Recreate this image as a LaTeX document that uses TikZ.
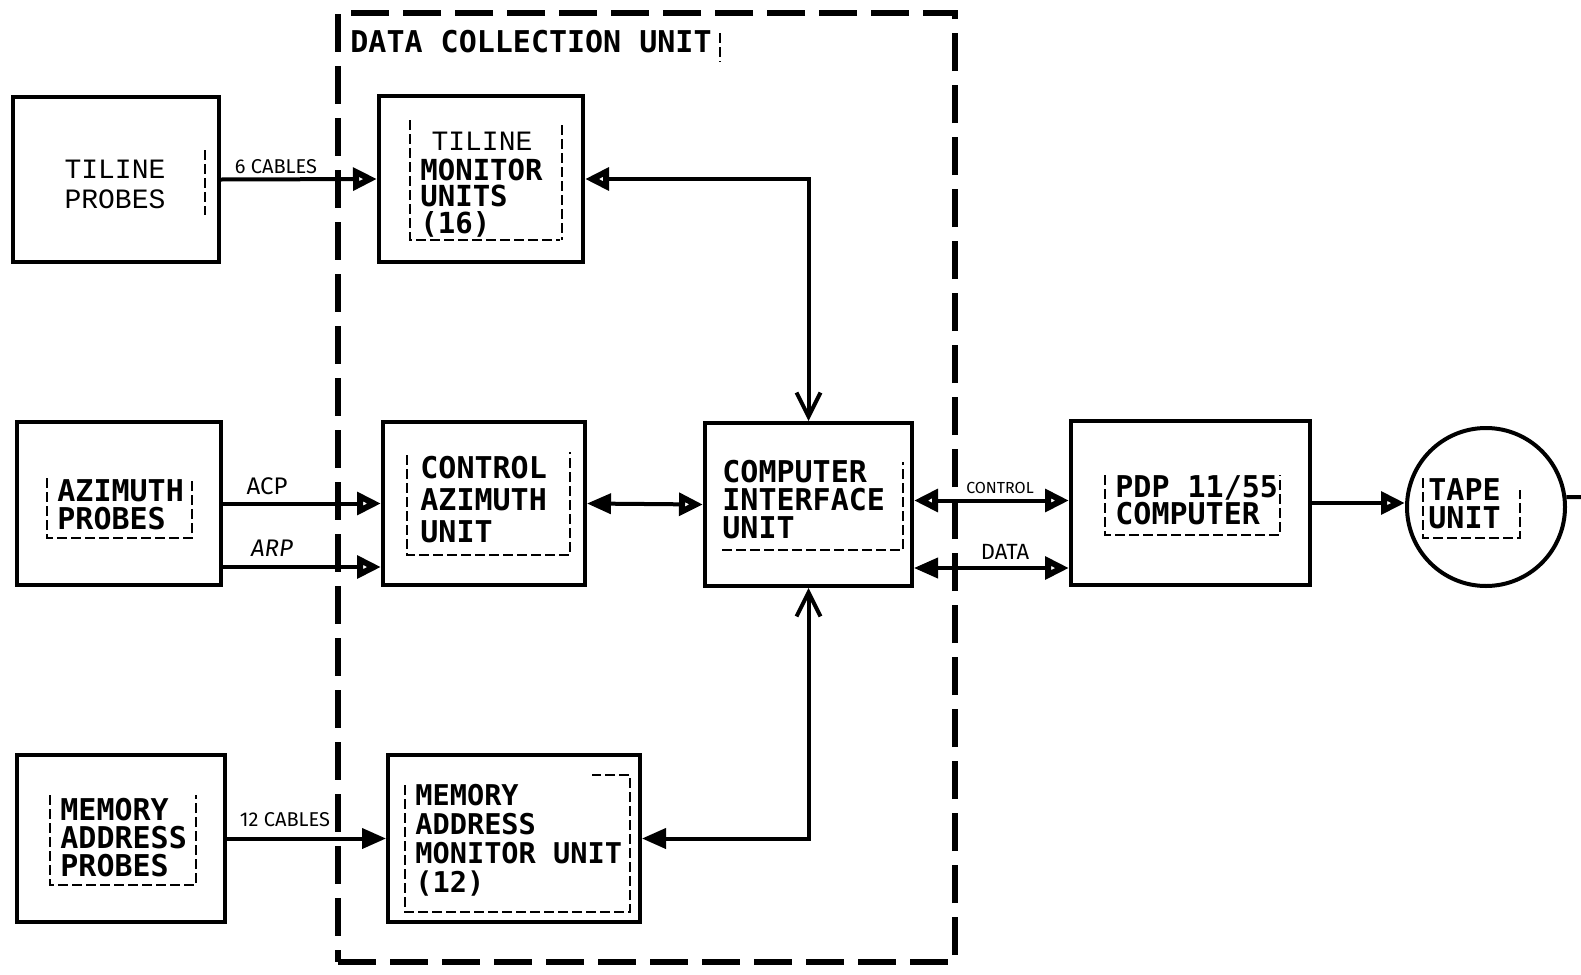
\documentclass[tikz,border=0pt]{standalone}
\usepackage{fontspec}
\newfontfamily\lett{DejaVu Sans Mono}
\newfontfamily\typew{Liberation Mono}
\newfontfamily\hand{Fira Sans}
\usetikzlibrary{arrows.meta}
\begin{document}
\begin{tikzpicture}[x=0.5pt,y=-0.5pt,
  otri/.tip={Triangle[open,length=12pt,width=11pt,line width=1.6pt 1]},
  ftri/.tip={Triangle[length=12pt,width=10pt]},
  vbarb/.tip={Straight Barb[length=12pt,width=12pt]},
  box/.style={draw, line width=2pt, rectangle, inner sep=0pt},
  conn/.style={line width=2pt},
  txt/.style={anchor=west, inner sep=0pt, align=left, font=\lett\bfseries\fontsize{15pt}{14pt}\selectfont},
  ttxt/.style={inner sep=0pt, align=center, font=\typew\fontsize{14pt}{15pt}\selectfont},
  lbl/.style={inner sep=0pt, font=\hand\fontsize{10pt}{11pt}\selectfont},
  brk/.style={line width=0.6pt, dash pattern=on 5pt off 2pt},
  frame/.style={draw, line width=2.6pt, dash pattern=on 19pt off 7pt, rectangle, inner sep=0pt}
]
\useasboundingbox[fill=white] (0,0) rectangle (1581,975);

% data collection unit frame
\node[frame, minimum width=308.5pt, minimum height=474.5pt] (dcu) at (646.5,487.5) {};
\node[txt] (dcul) at (350,42) {DATA COLLECTION UNIT};
\draw[brk] (720,33) -- (720,62);

% boxes
\node[box, minimum width=103pt, minimum height=82.5pt] (tp) at (116,179.5) {};
\node[box, minimum width=102pt, minimum height=83pt] (tmu) at (481,179) {};
\node[box, minimum width=102pt, minimum height=81.5pt] (ap) at (119,503.5) {};
\node[box, minimum width=101pt, minimum height=81.5pt] (cau) at (484,503.5) {};
\node[box, minimum width=103.5pt, minimum height=81.5pt] (ciu) at (808.5,504.5) {};
\node[box, minimum width=104pt, minimum height=83.5pt] (map) at (121,838.5) {};
\node[box, minimum width=126pt, minimum height=83.5pt] (mamu) at (514,838.5) {};
\node[box, minimum width=119.5pt, minimum height=82pt] (pdp) at (1190.5,503) {};
\node[draw, line width=2pt, circle, inner sep=0pt, minimum size=79pt] (tape) at (1486,507) {};
\coordinate (tail) at (1581,497);
\draw[conn] (tape.7) -- (tail);

% texts
\node[ttxt] (tpt) at (115,184) {TILINE\\PROBES};
\node[ttxt] (tmut1) at (482,141) {TILINE};
\node[txt, font=\lett\bfseries\fontsize{14.5pt}{13.2pt}\selectfont] (tmut2) at (420,198) {MONITOR\\UNITS\\(16)};
\node[txt] (apt) at (57,505) {AZIMUTH\\PROBES};
\node[txt, font=\lett\bfseries\fontsize{15pt}{16pt}\selectfont] (caut) at (420,500) {CONTROL\\AZIMUTH\\UNIT};
\node[txt] (ciut) at (722,500) {COMPUTER\\INTERFACE\\UNIT};
\node[txt] (mapt) at (60,838) {MEMORY\\ADDRESS\\PROBES};
\node[txt, font=\lett\bfseries\fontsize{14.3pt}{14.5pt}\selectfont] (mamut) at (415,840) {MEMORY\\ADDRESS\\MONITOR UNIT\\(12)};
\node[txt, font=\lett\bfseries\fontsize{15pt}{13.5pt}\selectfont] (pdpt) at (1115,500) {PDP 11/55\\COMPUTER};
\node[txt] (tapet) at (1428,504) {TAPE\\UNIT};

% inner bracket marks
\draw[brk] (410,120) -- (410,240) -- (560,240);
\draw[brk] (562,125) -- (562,240);
\draw[brk] (205,150) -- (205,215);
\draw[brk] (47,478) -- (47,538) -- (192,538) -- (192,478);
\draw[brk] (407,455) -- (407,555) -- (570,555) -- (570,452);
\draw[brk] (722,550) -- (903,550) -- (903,462);
\draw[brk] (50,795) -- (50,885) -- (196,885) -- (196,795);
\draw[brk] (405,785) -- (405,912) -- (630,912) -- (630,775) -- (592,775);
\draw[brk] (1105,475) -- (1105,535) -- (1280,535) -- (1280,475);
\draw[brk] (1423,478) -- (1423,538) -- (1520,538) -- (1520,490);

% connectors
\draw[conn, -otri] (tp.east) -- (tmu.west);
\node[lbl] (c6) at (276,167) {6 CABLES};
\draw[conn, otri-vbarb] (tmu.east) -| (ciu.north);
\draw[conn, -otri] (ap.east) -- (cau.west);
\node[lbl, font=\hand\fontsize{12pt}{12pt}\selectfont] (acp) at (267,486) {ACP};
\draw[conn, -otri] ([yshift=-31.75pt]ap.east) -- ([yshift=-31.75pt]ap.east -| cau.west);
\node[lbl, font=\hand\itshape\fontsize{12pt}{12pt}\selectfont] (arp) at (272,548) {ARP};
\draw[conn, ftri-otri] (cau.east) -- (ciu.west);
\draw[conn, otri-otri] ([yshift=2pt]ciu.east) -- ([yshift=2pt]ciu.east -| pdp.west);
\node[lbl, font=\hand\fontsize{8pt}{8pt}\selectfont] (ctl) at (1000,488) {CONTROL};
\draw[conn, ftri-otri] ([yshift=-31.75pt]ciu.east) -- ([yshift=-31.75pt]ciu.east -| pdp.west);
\node[lbl, font=\hand\fontsize{11pt}{11pt}\selectfont] (dat) at (1005,552) {DATA};
\draw[conn, -otri] (pdp.east) -- (pdp.east -| tape.west);
\draw[conn, -ftri] (map.east) -- (mamu.west);
\node[lbl] (c12) at (285,820) {12 CABLES};
\draw[conn, ftri-vbarb] (mamu.east) -| (ciu.south);
\end{tikzpicture}
\end{document}
